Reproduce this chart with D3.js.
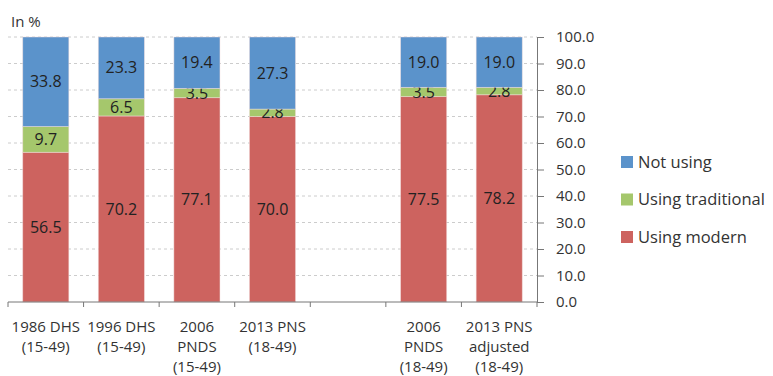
<!DOCTYPE html>
<html>
<head>
<meta charset="utf-8">
<script src="https://cdn.jsdelivr.net/npm/d3@7"></script>
<style>
  html, body { margin: 0; padding: 0; background: #fff; }
  svg { display: block; font-family: "Open Sans", "Noto Sans", sans-serif; }
</style>
</head>
<body>
<svg id="chart" width="773" height="376"></svg>
<script>
// Survey rounds (an empty slot separates the two groups)
const categories = ["1986 DHS", "1996 DHS", "2006 PNDS", "2013 PNS", "gap", "2006 PNDS b", "2013 PNS adj"];
const categoryLabels = [
  ["1986 DHS", "(15-49)"],
  ["1996 DHS", "(15-49)"],
  ["2006", "PNDS", "(15-49)"],
  ["2013 PNS", "(18-49)"],
  [],
  ["2006", "PNDS", "(18-49)"],
  ["2013 PNS", "adjusted", "(18-49)"]
];
const usingModern      = [56.5, 70.2, 77.1, 70.0, null, 77.5, 78.2];
const usingTraditional = [9.7, 6.5, 3.5, 2.8, null, 3.5, 2.8];
const notUsing         = [33.8, 23.3, 19.4, 27.3, null, 19.0, 19.0];
const seriesNames = ["Using modern", "Using traditional", "Not using"];
const yTicks = [0, 10, 20, 30, 40, 50, 60, 70, 80, 90, 100];

const colors = {
  "Using modern": "#cd635f",
  "Using traditional": "#a5c76c",
  "Not using": "#5b93cb"
};

const svg = d3.select("#chart");

const x = d3.scaleBand()
  .domain(categories)
  .range([8, 537])
  .paddingInner(0.39)
  .paddingOuter(0.195);

const y = d3.scaleLinear().domain([0, 100]).range([302, 37]);

// dashed gridlines
svg.append("g")
  .selectAll("line")
  .data(yTicks.slice(1))
  .join("line")
  .attr("x1", 8).attr("x2", 537)
  .attr("y1", d => y(d)).attr("y2", d => y(d))
  .attr("stroke", "#cccccc")
  .attr("stroke-width", 1)
  .attr("stroke-dasharray", "3,3");

// stacked bars
const rows = categories.map((c, i) => ({
  cat: c,
  "Using modern": usingModern[i],
  "Using traditional": usingTraditional[i],
  "Not using": notUsing[i]
})).filter(r => r["Using modern"] !== null);

const stack = d3.stack().keys(seriesNames);
const stacked = stack(rows);

const layers = svg.append("g")
  .selectAll("g")
  .data(stacked)
  .join("g")
  .attr("fill", d => colors[d.key]);

layers.selectAll("rect")
  .data(d => d)
  .join("rect")
  .attr("x", d => x(d.data.cat))
  .attr("width", x.bandwidth())
  .attr("y", d => y(Math.min(d[1], 100)))
  .attr("height", d => y(d[0]) - y(Math.min(d[1], 100)))
  .attr("stroke", "#f4dede")
  .attr("stroke-opacity", 0.6)
  .attr("stroke-width", 0.8);

// value labels centred in each segment
layers.selectAll("text")
  .data(d => d.map(v => ({ v, key: d.key })))
  .join("text")
  .attr("x", d => x(d.v.data.cat) + x.bandwidth() / 2)
  .attr("y", d => y((d.v[0] + Math.min(d.v[1], 100)) / 2))
  .attr("dy", "0.35em")
  .attr("text-anchor", "middle")
  .attr("fill", "#222")
  .attr("font-size", 16)
  .text(d => d.v.data[d.key].toFixed(1));

// bottom axis with ticks at slot boundaries
const xAxis = svg.append("g");
xAxis.append("line")
  .attr("x1", x.range()[0]).attr("x2", x.range()[1])
  .attr("y1", y(0)).attr("y2", y(0))
  .attr("stroke", "#777");
xAxis.selectAll("line.tick")
  .data(d3.range(categories.length + 1))
  .join("line")
  .attr("class", "tick")
  .attr("x1", i => x.range()[0] + i * x.step())
  .attr("x2", i => x.range()[0] + i * x.step())
  .attr("y1", y(0)).attr("y2", y(0) + 5)
  .attr("stroke", "#777");

const labelGroups = xAxis.selectAll("text")
  .data(categories.map((c, i) => ({ c, lines: categoryLabels[i] })))
  .join("text")
  .attr("text-anchor", "middle")
  .attr("fill", "#333")
  .attr("font-size", 15);
labelGroups.selectAll("tspan")
  .data(d => d.lines.map(l => ({ l, c: d.c })))
  .join("tspan")
  .attr("x", d => x(d.c) + x.bandwidth() / 2)
  .attr("y", (d, i) => 327 + i * 20)
  .attr("dy", "0.35em")
  .text(d => d.l);

// right value axis
const yAxis = svg.append("g")
  .attr("transform", "translate(537,0)")
  .call(d3.axisRight(y).tickValues(yTicks).tickFormat(d3.format(".1f")).tickSize(7).tickPadding(12));
yAxis.select(".domain").attr("stroke", "#777");
yAxis.selectAll(".tick line").attr("stroke", "#777");
yAxis.selectAll(".tick text")
  .attr("fill", "#333")
  .attr("font-size", 15)
  .attr("font-family", "\"Open Sans\", \"Noto Sans\", sans-serif");

// unit label
svg.append("text")
  .attr("x", 11).attr("y", 22)
  .attr("dy", "0.35em")
  .attr("fill", "#333")
  .attr("font-size", 15)
  .text("In %");

// legend
const legendItems = ["Not using", "Using traditional", "Using modern"];
const legend = svg.append("g")
  .selectAll("g")
  .data(legendItems)
  .join("g")
  .attr("transform", (d, i) => `translate(621, ${162 + i * 37.5})`);
legend.append("rect")
  .attr("x", 0).attr("y", -6)
  .attr("width", 12).attr("height", 12)
  .attr("fill", d => colors[d]);
legend.append("text")
  .attr("x", 17).attr("y", 0)
  .attr("dy", "0.35em")
  .attr("fill", "#333")
  .attr("font-size", 16.5)
  .text(d => d);
</script>
</body>
</html>
